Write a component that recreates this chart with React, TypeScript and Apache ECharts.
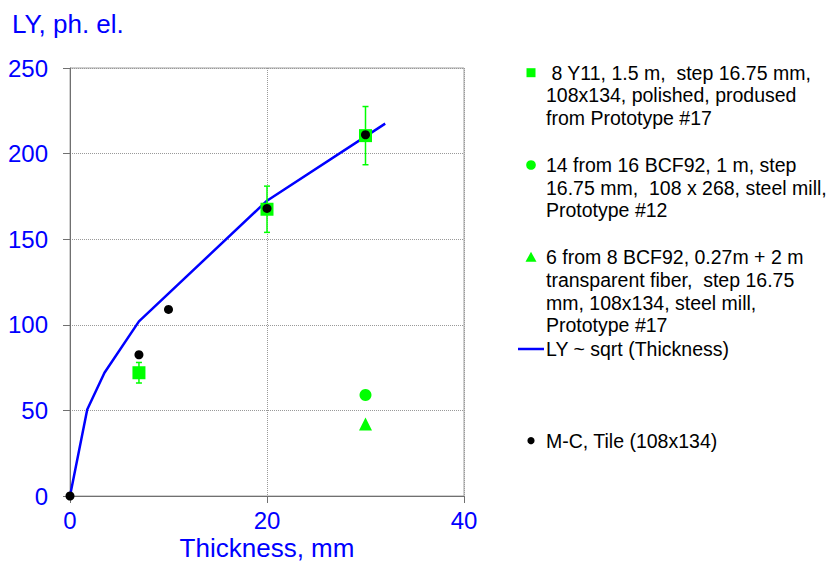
import React, { useEffect, useRef } from "react";
import * as echarts from "echarts";

const FONT = "'Liberation Sans', Arial, sans-serif";
const BLUE = "#0000FF";
const GREEN = "#00FF00";

// sqrt fit line vertices
const fitX = [0, 1.75, 3.5, 7, 20, 32];
const fitY = [0, 50.5, 72, 102, 172.5, 217.5];

// 8 Y11 (squares with error bars)
const squareX = [7, 20, 30];
const squareY = [72, 167.5, 210.5];
const squareErr = [6, 13.5, 17];

// 14 from 16 BCF92 (circle)
const circleX = [30];
const circleY = [59];

// 6 from 8 BCF92 (triangle)
const triX = [30];
const triY = [42];

// M-C, Tile
const mcX = [0, 7, 10, 20, 30];
const mcY = [0, 82.5, 109, 168, 211];

const xTicks = { min: 0, max: 40, interval: 20 };
const yTicks = { min: 0, max: 250, interval: 50 };

const legendLabels = [
  " 8 Y11, 1.5 m,  step 16.75 mm,\n108x134, polished, prodused\nfrom Prototype #17",
  "14 from 16 BCF92, 1 m, step\n16.75 mm,  108 x 268, steel mill,\nPrototype #12",
  "6 from 8 BCF92, 0.27m + 2 m\ntransparent fiber,  step 16.75\nmm, 108x134, steel mill,\nPrototype #17",
  "LY ~ sqrt (Thickness)",
  "M-C, Tile (108x134)",
];

export default function App() {
  const ref = useRef<HTMLDivElement>(null);
  useEffect(() => {
    if (!ref.current) return;
    const chart = echarts.init(ref.current, undefined, { renderer: "svg" });
    const zip = (xs: number[], ys: number[]) => xs.map((x, i) => [x, ys[i]]);
    const LH = 22.7;
    const legendCenters = [72.7, 165, 257.3, 349, 440.7];
    const textX = 546;
    const textStyle = (t: string, cy: number) => ({
      type: "text",
      x: textX,
      y: cy - LH / 2,
      style: {
        text: t,
        font: `19.5px ${FONT}`,
        fill: "#000",
        lineHeight: LH,
        verticalAlign: "top",
        align: "left",
      },
    });
    const mx = 531;
    const option: any = {
      animation: false,
      backgroundColor: "#fff",
      title: {
        text: "LY, ph. el.",
        left: 12,
        top: 11,
        padding: 0,
        textStyle: { color: BLUE, fontSize: 26, fontWeight: "normal", fontFamily: FONT },
      },
      grid: {
        left: 70,
        top: 68,
        width: 394,
        height: 428,
        outerBoundsMode: "none",
        containLabel: false,
        show: true,
        borderColor: "#a0a0a0",
        borderWidth: 1,
        backgroundColor: "transparent",
      },
      xAxis: {
        type: "value",
        ...xTicks,
        name: "Thickness, mm",
        nameLocation: "middle",
        nameGap: 42,
        nameMoveOverlap: false,
        nameTextStyle: { color: BLUE, fontSize: 26, fontFamily: FONT, lineHeight: 20 },
        axisLine: { show: true, onZero: false, lineStyle: { color: "#707070", width: 1 } },
        axisTick: { show: true, inside: false, length: 7, lineStyle: { color: "#707070" } },
        axisLabel: { color: BLUE, fontSize: 24, fontFamily: FONT, margin: 13, lineHeight: 22 },
        splitLine: { show: true, lineStyle: { color: "#999", type: "dotted", width: 1 } },
      },
      yAxis: {
        type: "value",
        ...yTicks,
        axisLine: { show: true, onZero: false, lineStyle: { color: "#707070", width: 1 } },
        axisTick: { show: true, inside: false, length: 7, lineStyle: { color: "#707070" } },
        axisLabel: { color: BLUE, fontSize: 24, fontFamily: FONT, margin: 22 },
        splitLine: { show: true, lineStyle: { color: "#999", type: "dotted", width: 1 } },
      },
      series: [
        {
          type: "line",
          name: "LY ~ sqrt (Thickness)",
          data: zip(fitX, fitY),
          symbol: "none",
          lineStyle: { color: BLUE, width: 2.5 },
          z: 2,
        },
        {
          type: "custom",
          name: "err",
          data: squareX.map((x, i) => [x, squareY[i] - squareErr[i], squareY[i] + squareErr[i]]),
          renderItem: (params: any, api: any) => {
            const x = api.value(0);
            const lo = api.coord([x, api.value(1)]);
            const hi = api.coord([x, api.value(2)]);
            const w = 3;
            const st = { stroke: GREEN, lineWidth: 1.5 };
            return {
              type: "group",
              children: [
                { type: "line", shape: { x1: lo[0], y1: lo[1], x2: hi[0], y2: hi[1] }, style: st },
                { type: "line", shape: { x1: lo[0] - w, y1: lo[1], x2: lo[0] + w, y2: lo[1] }, style: st },
                { type: "line", shape: { x1: hi[0] - w, y1: hi[1], x2: hi[0] + w, y2: hi[1] }, style: st },
              ],
            };
          },
          z: 3,
        },
        {
          type: "scatter",
          name: "8 Y11",
          data: zip(squareX, squareY),
          symbol: "rect",
          symbolSize: 13,
          itemStyle: { color: GREEN, opacity: 1 },
          z: 4,
        },
        {
          type: "scatter",
          name: "14 from 16 BCF92",
          data: zip(circleX, circleY),
          symbol: "circle",
          symbolSize: 12,
          itemStyle: { color: GREEN, opacity: 1 },
          z: 4,
        },
        {
          type: "scatter",
          name: "6 from 8 BCF92",
          data: zip(triX, triY),
          symbol: "triangle",
          symbolSize: 13,
          itemStyle: { color: GREEN, opacity: 1 },
          z: 4,
        },
        {
          type: "scatter",
          name: "M-C, Tile",
          data: zip(mcX, mcY),
          symbol: "circle",
          symbolSize: 9,
          itemStyle: { color: "#000", opacity: 1 },
          z: 5,
        },
      ],
      graphic: [
        { type: "rect", shape: { x: mx - 4.5, y: legendCenters[0] - 4.5, width: 9, height: 9 }, style: { fill: GREEN } },
        { type: "circle", shape: { cx: mx, cy: legendCenters[1], r: 4.8 }, style: { fill: GREEN } },
        {
          type: "polygon",
          shape: { points: [[mx, legendCenters[2] - 5.5], [mx + 5.5, legendCenters[2] + 4.5], [mx - 5.5, legendCenters[2] + 4.5]] },
          style: { fill: GREEN },
        },
        { type: "line", shape: { x1: 518, y1: legendCenters[3], x2: 544, y2: legendCenters[3] }, style: { stroke: BLUE, lineWidth: 2.5 } },
        { type: "circle", shape: { cx: mx, cy: legendCenters[4], r: 3.6 }, style: { fill: "#000" } },
        ...legendLabels.map((t, i) => textStyle(t, legendCenters[i])),
      ],
    };
    chart.setOption(option);
    return () => chart.dispose();
  }, []);
  return (
    <div
      ref={ref}
      style={{ position: "fixed", left: 0, top: 0, width: 831, height: 563 }}
    />
  );
}
